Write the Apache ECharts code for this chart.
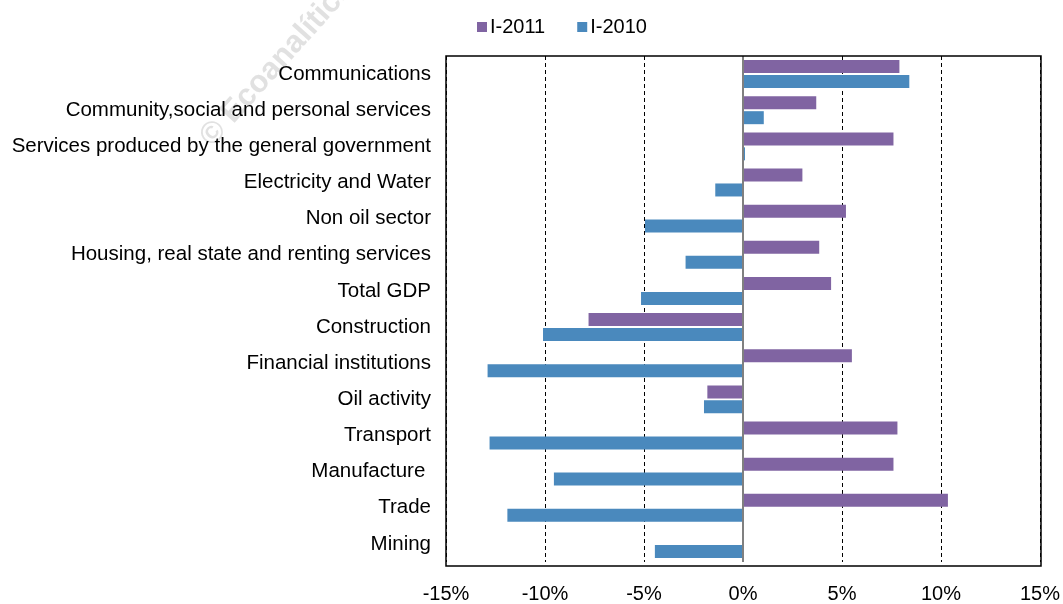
<!DOCTYPE html>
<html><head><meta charset="utf-8">
<script src="https://cdn.jsdelivr.net/npm/echarts@6/dist/echarts.min.js"></script>
<style>html,body{margin:0;padding:0;background:#fff}#c{width:1063px;height:604px}</style>
</head><body><div id="c"></div>
<script>
const categories = ["Communications","Community,social and personal services","Services produced by the general government","Electricity and Water","Non oil sector","Housing, real state and renting services","Total GDP","Construction","Financial institutions","Oil activity","Transport","Manufacture ","Trade","Mining"];
const i2011 = [7.9, 3.7, 7.6, 3.0, 5.2, 3.85, 4.45, -7.8, 5.5, -1.8, 7.8, 7.6, 10.35, 0];
const i2010 = [8.4, 1.05, 0.1, -1.4, -4.95, -2.9, -5.15, -10.1, -12.9, -1.97, -12.8, -9.55, -11.9, -4.45];
const xTicks = [-15, -10, -5, 0, 5, 10, 15];

const chart = echarts.init(document.getElementById('c'));
chart.setOption({
  animation: false,
  textStyle: {fontFamily: 'Liberation Sans, Arial, sans-serif'},
  legend: {
    top: 12, left: 472, itemWidth: 10, itemHeight: 10, itemGap: 32,
    icon: 'rect',
    textStyle: {fontSize: 20, color: '#000', padding: [0, 0, 0, -2]},
    data: ['I-2011', 'I-2010']
  },
  grid: {left: 446, right: 22, top: 56, bottom: 38, containLabel: false},
  xAxis: {
    type: 'value', min: -15, max: 15, interval: 5,
    axisLine: {show: false},
    axisTick: {show: false},
    axisLabel: {fontSize: 20, color: '#000', margin: 22, formatter: v => v + '%'},
    splitLine: {show: true, lineStyle: {color: '#000', type: [4, 3], width: 1}}
  },
  yAxis: {
    type: 'category', data: categories, inverse: true,
    axisLine: {show: false}, axisTick: {show: false},
    axisLabel: {fontSize: 20.5, color: '#000', margin: 15, padding: [5, 0, 0, 0]}
  },
  graphic: [
    {type: 'rect', shape: {x: 446, y: 56, width: 595, height: 510}, style: {fill: 'none', stroke: '#000', lineWidth: 1.5}, z: 10},
    {type: 'text', x: 277, y: 63, rotation: Math.PI * 48 / 180,
     style: {text: '© Ecoanalítica', fontSize: 31, fontWeight: 'bold', fill: 'rgba(200,200,200,0.55)', align: 'center', verticalAlign: 'middle', fontFamily: 'Liberation Sans, Arial'}, z: 0}
  ],
  series: [
    {name: 'I-2011', type: 'bar', data: i2011, barWidth: 13, barGap: '15%',
     itemStyle: {color: '#8064A2'},
     markLine: {silent: true, symbol: 'none', label: {show: false}, lineStyle: {color: '#808080', type: 'solid', width: 2}, data: [{xAxis: 0}]}},
    {name: 'I-2010', type: 'bar', data: i2010, barWidth: 13, barGap: '15%',
     itemStyle: {color: '#4A89BD'}}
  ]
});
</script></body></html>
